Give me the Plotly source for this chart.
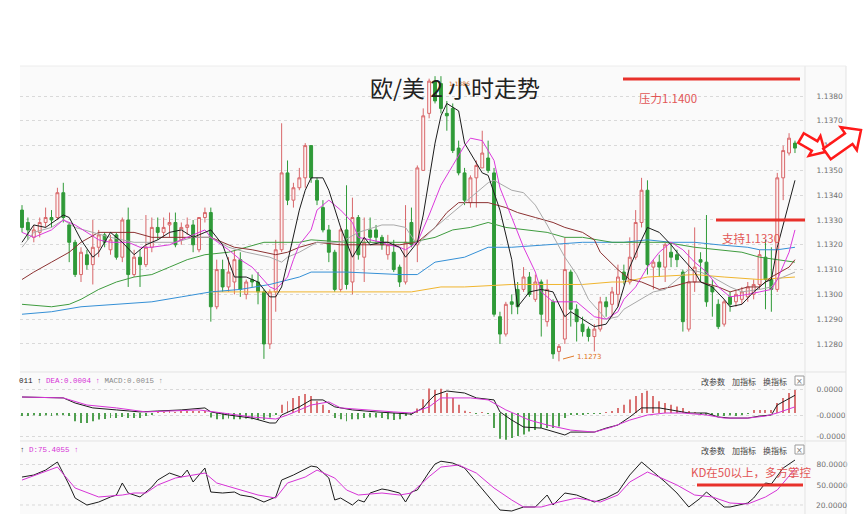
import math
import plotly.graph_objects as go

# ---------------- data ----------------
opens = [1.1334,1.1329,1.1323,1.1325,1.1329,1.1331,1.1331,1.1341,1.1328,1.1321,
         1.1308,1.1316,1.1312,1.1319,1.1324,1.1318,1.1324,1.1315,1.1330,1.1308,
         1.1315,1.1312,1.1319,1.1327,1.1325,1.1328,1.1329,1.1322,1.1327,1.1328,
         1.1318,1.1331,1.1333,1.1295,1.1310,1.1303,1.1305,1.1314,1.1300,1.1306,
         1.1305,1.1301,1.1280,1.1301,1.1318,1.1349,1.1338,1.1343,1.1347,1.1360,
         1.1346,1.1335,1.1326,1.1317,1.1302,1.1326,1.1305,1.1331,1.1315,1.1326,
         1.1326,1.1323,1.1316,1.1317,1.1311,1.1305,1.1329,1.1320,1.1350,1.1373,
         1.1386,1.1385,1.1373,1.1375,1.1359,1.1349,1.1337,1.1347,1.1351,1.1355,
         1.1349,1.1291,1.1284,1.1297,1.1302,1.1302,1.1307,1.1298,1.1305,1.1289,
         1.1297,1.1277,1.1282,1.1309,1.1294,1.1288,1.1286,1.1283,1.1286,1.1297,
         1.1296,1.1300,1.1309,1.1305,1.1315,1.1329,1.1342,1.1311,1.1313,1.1311,
         1.1317,1.1316,1.1309,1.1286,1.1305,1.1314,1.1313,1.1303,1.1296,1.1288,
         1.1299,1.1297,1.1298,1.1299,1.1300,1.1304,1.1315,1.1306,1.1302,1.1347,
         1.1357,1.1361]
highs = [1.1336,1.1331,1.1328,1.1331,1.1335,1.1334,1.1343,1.1345,1.1329,1.1322,
         1.1319,1.1318,1.1330,1.1326,1.1325,1.1324,1.1325,1.1331,1.1335,1.1318,
         1.1318,1.1332,1.1331,1.1331,1.1331,1.1333,1.1333,1.1329,1.1331,1.1330,
         1.1331,1.1335,1.1335,1.1314,1.1314,1.1315,1.1318,1.1317,1.1306,1.1308,
         1.1309,1.1302,1.1302,1.1322,1.1369,1.1354,1.1345,1.1351,1.1361,1.1360,
         1.1347,1.1338,1.1328,1.1318,1.1327,1.1344,1.1339,1.1332,1.1331,1.1331,
         1.1328,1.1324,1.1324,1.1322,1.1312,1.1336,1.1335,1.1352,1.1375,1.1387,
         1.1388,1.1388,1.1378,1.1377,1.1362,1.1351,1.1348,1.1354,1.1366,1.1362,
         1.1351,1.1293,1.1297,1.1300,1.1305,1.1311,1.1309,1.1308,1.1306,1.1306,
         1.1298,1.1280,1.1323,1.1310,1.1296,1.1291,1.1287,1.1288,1.1299,1.1299,
         1.1303,1.1312,1.1312,1.1323,1.1334,1.1347,1.1346,1.1314,1.1316,1.1321,
         1.1321,1.1318,1.1310,1.1318,1.1327,1.1317,1.1332,1.1306,1.1298,1.1298,
         1.1301,1.1302,1.1303,1.1305,1.1306,1.1318,1.1322,1.1319,1.1349,1.1360,
         1.1365,1.1362]
lows = [1.1325,1.1322,1.1321,1.1323,1.1327,1.1327,1.1330,1.1329,1.1313,1.1307,
        1.1305,1.1310,1.1304,1.1315,1.1319,1.1316,1.1314,1.1313,1.1303,1.1307,
        1.1303,1.1311,1.1317,1.1322,1.1323,1.1323,1.1319,1.1320,1.1324,1.1317,
        1.1317,1.1329,1.1289,1.1294,1.1301,1.1301,1.1300,1.1299,1.1298,1.1303,
        1.1296,1.1274,1.1278,1.1293,1.1317,1.1336,1.1335,1.1342,1.1343,1.1345,
        1.1336,1.1325,1.1313,1.1301,1.1301,1.1302,1.1300,1.1314,1.1305,1.1321,
        1.1321,1.1318,1.1314,1.1309,1.1303,1.1304,1.1319,1.1313,1.1350,1.1371,
        1.1377,1.1373,1.1366,1.1357,1.1348,1.1336,1.1335,1.1335,1.1351,1.1349,
        1.1291,1.1280,1.1283,1.1292,1.1292,1.1301,1.1299,1.1297,1.1283,1.1287,
        1.1274,1.1273,1.1280,1.1287,1.1281,1.1283,1.1281,1.1277,1.1285,1.1291,
        1.1291,1.1295,1.1304,1.1304,1.1314,1.1327,1.1308,1.1302,1.1307,1.1305,
        1.1311,1.1311,1.1285,1.1285,1.1301,1.1305,1.1295,1.1291,1.1286,1.1287,
        1.1293,1.1295,1.1296,1.1297,1.1298,1.1302,1.1294,1.1293,1.1301,1.1338,
        1.1356,1.1357]
closes = [1.1327,1.1326,1.1326,1.1329,1.1331,1.1330,1.1341,1.1331,1.1321,1.1308,
          1.1317,1.1312,1.1319,1.1324,1.1321,1.1322,1.1315,1.1330,1.1308,1.1315,
          1.1312,1.1319,1.1327,1.1325,1.1327,1.1329,1.1320,1.1327,1.1328,1.1320,
          1.1331,1.1333,1.1295,1.1310,1.1303,1.1309,1.1314,1.1302,1.1305,1.1305,
          1.1301,1.1280,1.1301,1.1318,1.1349,1.1338,1.1343,1.1347,1.1360,1.1347,
          1.1338,1.1326,1.1317,1.1302,1.1326,1.1304,1.1331,1.1316,1.1321,1.1323,
          1.1323,1.1320,1.1320,1.1310,1.1305,1.1321,1.1320,1.1351,1.1372,1.1386,
          1.1378,1.1375,1.1372,1.1358,1.1349,1.1338,1.1347,1.1352,1.1357,1.1350,
          1.1292,1.1284,1.1296,1.1296,1.1295,1.1307,1.1300,1.1305,1.1292,1.1302,
          1.1276,1.1279,1.1310,1.1294,1.1289,1.1285,1.1283,1.1286,1.1297,1.1295,
          1.1301,1.1307,1.1306,1.1315,1.1329,1.1342,1.1312,1.1313,1.1311,1.1320,
          1.1315,1.1314,1.1289,1.1305,1.1311,1.1313,1.1297,1.1301,1.1287,1.1297,
          1.1296,1.1300,1.1301,1.1303,1.1304,1.1316,1.1306,1.1302,1.1347,1.1358,
          1.1363,1.1359]
idx = list(range(len(opens)))

# moving averages (sampled along the drawn curves)
ma5_x = [0,2,4,7,8,10,12,13,15,17,19,21,23,25,27,29,31,32,34,36,38,40,41,42,43,44,45,46,47,48,49,51,52,54,56,58,59,61,62,64,65,67,68,70,71,72,74,75,78,79,81,83,84,86,88,90,92,93,95,97,99,101,102,103,105,106,108,110,111,114,115,117,119,120,122,124,126,127,128,130,131]
ma5_y = [1.1321,1.1328,1.1327,1.1332,1.1331,1.1322,1.1315,1.1317,1.1325,1.1321,1.1316,1.1320,1.1322,1.1325,1.1326,1.1323,1.1325,1.1326,1.1320,1.1307,1.1307,1.1305,1.1302,1.1299,1.1299,1.1303,1.1313,1.1323,1.1334,1.1342,1.1347,1.1347,1.1342,1.1327,1.1315,1.1323,1.1320,1.1321,1.1321,1.1319,1.1315,1.1321,1.1332,1.1361,1.1372,1.1377,1.1374,1.1361,1.1349,1.1348,1.1334,1.1314,1.1295,1.1301,1.1302,1.1301,1.1291,1.1293,1.1290,1.1287,1.1288,1.1295,1.1303,1.1311,1.1322,1.1327,1.1325,1.1320,1.1317,1.1309,1.1305,1.1303,1.1298,1.1295,1.1296,1.1301,1.1305,1.1306,1.1319,1.1337,1.1346]
ma10_x = [0,2,5,7,9,11,13,15,18,20,22,25,27,29,31,32,35,37,39,42,43,45,46,47,49,50,52,54,56,57,59,61,62,64,65,67,69,71,73,75,76,78,80,81,83,85,87,88,90,92,94,97,99,101,102,104,106,108,110,112,114,116,118,120,123,125,127,128,130,131]
ma10_y = [1.1325,1.1323,1.1326,1.1330,1.1328,1.1325,1.1322,1.1321,1.1321,1.1319,1.1319,1.1320,1.1322,1.1324,1.1326,1.1323,1.1318,1.1314,1.1311,1.1303,1.1302,1.1307,1.1314,1.1320,1.1326,1.1334,1.1338,1.1334,1.1329,1.1323,1.1322,1.1321,1.1320,1.1319,1.1318,1.1321,1.1332,1.1344,1.1352,1.1360,1.1363,1.1362,1.1354,1.1343,1.1331,1.1319,1.1309,1.1301,1.1297,1.1297,1.1297,1.1291,1.1290,1.1293,1.1298,1.1303,1.1311,1.1317,1.1321,1.1318,1.1313,1.1309,1.1303,1.1299,1.1300,1.1301,1.1302,1.1306,1.1317,1.1326]
ma20_x = [0,2,5,7,9,12,15,19,22,26,29,32,35,38,42,44,45,47,50,54,57,61,63,65,67,70,72,74,76,79,80,83,85,87,89,92,94,96,99,101,102,105,107,109,111,113,115,117,120,122,125,127,128,131]
ma20_y = [1.1319,1.1325,1.1327,1.1330,1.1327,1.1325,1.1323,1.1321,1.1321,1.1321,1.1323,1.1323,1.1319,1.1317,1.1315,1.1313,1.1315,1.1317,1.1321,1.1321,1.1325,1.1328,1.1328,1.1327,1.1320,1.1327,1.1331,1.1335,1.1339,1.1345,1.1346,1.1342,1.1341,1.1336,1.1328,1.1315,1.1308,1.1298,1.1290,1.1291,1.1294,1.1298,1.1301,1.1302,1.1306,1.1310,1.1309,1.1307,1.1303,1.1301,1.1302,1.1303,1.1306,1.1309]
ma30_x = [0,2,5,8,10,13,16,19,22,25,27,30,32,36,39,43,45,47,50,54,57,61,64,67,70,72,74,76,79,82,84,87,90,92,95,97,98,101,103,105,108,110,113,115,118,120,123,125,127,130,131]
ma30_y = [1.1306,1.1309,1.1313,1.1317,1.1321,1.1325,1.1325,1.1325,1.1323,1.1323,1.1323,1.1323,1.1323,1.1319,1.1318,1.1316,1.1317,1.1319,1.1321,1.1320,1.1320,1.1320,1.1320,1.1321,1.1327,1.1333,1.1337,1.1337,1.1337,1.1335,1.1333,1.1331,1.1329,1.1327,1.1325,1.1322,1.1317,1.1310,1.1306,1.1305,1.1302,1.1303,1.1305,1.1305,1.1303,1.1301,1.1303,1.1303,1.1307,1.1311,1.1314]
ma60_x = [0,5,8,10,13,16,19,22,25,28,31,35,38,41,47,49,55,61,66,70,73,76,79,82,86,89,92,95,100,105,109,114,118,122,125,128,131]
ma60_y = [1.1296,1.1295,1.1296,1.1298,1.1302,1.1305,1.1307,1.1308,1.1311,1.1314,1.1316,1.1317,1.1319,1.1321,1.1321,1.1322,1.1321,1.1321,1.1321,1.1323,1.1326,1.1327,1.1329,1.1327,1.1326,1.1325,1.1323,1.1323,1.1321,1.1321,1.1321,1.1319,1.1318,1.1317,1.1315,1.1314,1.1313]
ma120_x = [0,5,10,16,22,27,32,37,42,47,49,55,64,67,70,75,79,83,89,95,102,106,110,114,118,123,125,128,131]
ma120_y = [1.1292,1.1293,1.1295,1.1296,1.1297,1.1299,1.1301,1.1302,1.1304,1.1307,1.1309,1.1309,1.1308,1.1308,1.1313,1.1315,1.1319,1.1319,1.1320,1.1321,1.1321,1.1322,1.1321,1.1321,1.1320,1.1319,1.1318,1.1318,1.1319]
ma250_x = [32,47,55,66,71,75,83,95,100,102,106,114,119,125,131]
ma250_y = [1.1301,1.1301,1.1301,1.1301,1.1303,1.1303,1.1304,1.1304,1.1305,1.1305,1.1307,1.1308,1.1307,1.1306,1.1307]

# MACD
macd_hist = [-0.0002,-0.0002,-0.00015,-0.0002,-0.00015,-0.0002,-0.00015,-0.0001,-0.0002,-0.00054,
             -0.00065,-0.00065,-0.00054,-0.00043,-0.00039,-0.00033,-0.00033,-0.00026,-0.00033,-0.00033,
             -0.00033,-0.0002,-0.0001,0.00005,0.00005,0.00007,0.00005,0.00007,0.00007,0.0001,
             0.00007,0.0001,-0.0003,-0.0004,-0.0004,-0.00035,-0.0004,-0.0004,-0.00035,-0.0004,
             -0.00045,-0.00045,-0.0003,-0.0001,0.00054,0.00076,0.00098,0.0011,0.00124,0.0011,
             0.00076,0.00054,0.0002,-0.00033,-0.0004,-0.00054,-0.0004,-0.0004,-0.00033,-0.0003,
             -0.0003,-0.00033,-0.0004,-0.00045,-0.0004,-0.0002,-0.0001,0.0003,0.0009,0.0016,
             0.0015,0.00158,0.0013,0.00098,0.00054,0.00015,0.00005,-0.00005,0.00005,-0.00005,
             -0.00098,-0.00167,-0.00174,-0.00163,-0.0015,-0.0014,-0.0012,-0.0011,-0.00098,-0.00098,
             -0.00098,-0.00087,-0.00033,-0.0001,-0.0001,-0.00008,-0.00006,-0.00004,-0.00003,0.00003,
             0.0001,0.00033,0.00054,0.00087,0.0011,0.0013,0.00145,0.0011,0.00076,0.00065,
             0.00054,0.00043,0.00033,0.0001,0.00005,-0.00005,-0.0001,-0.00015,-0.0002,-0.0002,
             -0.00015,-0.0002,-0.0001,-0.00005,0.0002,0.0002,0.0002,0.0002,0.00065,0.00098,
             0.0013,0.0015]
dif_x = [0,7,9,12,16,20,23,27,31,32,35,39,42,43,44,47,49,51,53,56,60,63,66,68,69,70,72,75,77,80,81,83,85,88,91,92,93,97,99,101,103,105,108,110,113,116,118,120,123,125,127,128,131]
dif_y = [0.00104,0.00098,0.00065,0.00033,0.0002,0.00007,0.00013,0.0002,0.00033,0.00007,-0.00013,-0.00033,-0.00065,-0.00065,-0.00013,0.0004,0.00085,0.00085,0.0004,0.0002,0.00007,0.0,-0.00007,0.00033,0.0008,0.00117,0.00143,0.0013,0.00098,0.00085,0.00007,-0.00046,-0.00091,-0.00098,-0.0013,-0.00143,-0.00124,-0.00124,-0.00098,-0.00078,-0.00026,0.00033,0.00033,0.0002,0.0,0.0,-0.00026,-0.00033,-0.00033,-0.0002,-0.00013,0.00052,0.00115]
dea_x = [0,7,11,16,21,26,30,34,39,43,45,49,52,54,58,63,66,69,71,76,79,82,86,89,93,97,100,103,106,109,112,116,119,123,126,128,131]
dea_y = [0.00104,0.00098,0.00052,0.00033,0.00007,0.00013,0.0002,0.0,-0.00026,-0.00039,-0.00013,0.00052,0.00072,0.00033,0.0002,0.00007,0.0,0.0004,0.00098,0.00098,0.00085,0.0002,-0.00046,-0.00078,-0.00111,-0.00124,-0.00091,-0.00046,-0.00013,0.0,0.0,-0.00013,-0.00033,-0.00033,-0.0002,0.0,0.0004]

# KD
k_x = [0,2,4,6,8,9,11,13,15,16,17,18,20,22,23,25,27,28,29,31,32,34,36,37,39,41,43,44,46,47,49,50,52,53,54,56,57,58,59,61,62,64,65,66,67,69,70,71,73,75,77,79,81,83,85,87,89,90,92,94,97,99,101,103,105,107,109,111,113,115,116,117,119,120,123,124,126,127,129,131]
k_y = [61.4,64.3,71.4,82.9,50.0,31.4,21.4,25.7,32.9,35.7,52.9,38.6,32.9,47.1,57.1,67.1,61.4,71.4,54.3,74.3,40.0,38.6,40.0,35.7,32.9,25.7,32.9,57.1,64.3,68.6,77.1,75.7,60.0,28.6,31.4,21.4,28.6,25.7,38.6,44.3,42.9,38.6,25.7,40.0,42.9,68.6,80.0,84.0,81.4,74.3,54.3,35.7,14.3,12.9,18.6,18.6,35.7,21.4,38.6,35.7,25.7,31.4,40.0,64.3,82.9,68.6,54.3,38.6,18.6,31.4,40.0,32.9,18.6,18.6,24.3,31.4,52.9,51.4,74.3,85.7]
d_x = [0,6,9,13,17,19,21,23,26,29,31,33,37,40,43,45,48,50,53,55,57,61,64,66,69,71,74,77,80,83,85,88,91,94,98,101,103,106,108,111,114,117,120,123,126,128,131]
d_y = [57.1,75.7,45.7,32.9,35.7,38.6,38.6,50.0,60.0,64.3,67.1,52.9,42.9,35.7,31.4,52.9,61.4,71.4,60.0,42.9,35.7,38.6,35.7,38.6,62.0,75.7,78.6,67.1,45.7,28.6,18.6,18.6,25.7,31.4,25.7,35.7,54.3,68.6,61.4,50.0,35.7,32.9,24.3,22.9,32.9,42.9,72.9]

price_ticks = [1.1280,1.1290,1.1300,1.1310,1.1320,1.1330,1.1340,1.1350,1.1360,1.1370,1.1380]
price_tick_text = ["1.1280","1.1290","1.1300","1.1310","1.1320","1.1330","1.1340","1.1350","1.1360","1.1370","1.1380"]
macd_ticks = [0.00156,-0.00013,-0.0015]
macd_tick_text = ["0.0000","-0.0000","-0.0000"]
kd_ticks = [80,50]
kd_tick_text = ["80.0000","50.0000"]
kd_bottom_label = "20.0000"
support_level = 1.1330
kd_level = 50

# ---------------- helpers for decoration placement ----------------
W, H = 864, 514
L, R, T, B = 20, 805, 66, 514
def px(x):
    return (x - L) / (R - L)
def py(y):
    return (B - y) / (B - T)

UP_LINE, UP_FILL = "#d8676a", "#fdf1f1"
DN = "#2f9a38"
RED = "#e8312b"
RED_TXT = "#e25656"

fig = go.Figure()
fig.add_trace(go.Candlestick(
    x=idx, open=opens, high=highs, low=lows, close=closes,
    increasing=dict(line=dict(color=UP_LINE, width=1), fillcolor=UP_FILL),
    decreasing=dict(line=dict(color=DN, width=1), fillcolor=DN),
    whiskerwidth=0, showlegend=False, hoverinfo="skip", yaxis="y"))

for xs, ys, col in [(ma250_x, ma250_y, "#f0b52e"), (ma120_x, ma120_y, "#3590d6"),
                    (ma60_x, ma60_y, "#3f9c3f"), (ma30_x, ma30_y, "#8c3232"),
                    (ma20_x, ma20_y, "#a9a9a9"), (ma10_x, ma10_y, "#dc3adc"),
                    (ma5_x, ma5_y, "#1c1c1c")]:
    fig.add_trace(go.Scatter(x=xs, y=ys, mode="lines", line=dict(color=col, width=1),
                             showlegend=False, hoverinfo="skip", yaxis="y"))

fig.add_trace(go.Bar(x=idx, y=macd_hist, width=0.16,
                     marker=dict(color=["#d97373" if v >= 0 else "#4f9f4f" for v in macd_hist], line=dict(width=0)),
                     showlegend=False, hoverinfo="skip", yaxis="y2"))
fig.add_trace(go.Scatter(x=dif_x, y=dif_y, mode="lines", line=dict(color="#1c1c1c", width=1),
                         showlegend=False, hoverinfo="skip", yaxis="y2"))
fig.add_trace(go.Scatter(x=dea_x, y=dea_y, mode="lines", line=dict(color="#d633d6", width=1),
                         showlegend=False, hoverinfo="skip", yaxis="y2"))
fig.add_trace(go.Scatter(x=k_x, y=k_y, mode="lines", line=dict(color="#1c1c1c", width=1),
                         showlegend=False, hoverinfo="skip", yaxis="y3"))
fig.add_trace(go.Scatter(x=d_x, y=d_y, mode="lines", line=dict(color="#d633d6", width=1),
                         showlegend=False, hoverinfo="skip", yaxis="y3"))

axis_common = dict(side="right", anchor="x", showgrid=True, gridcolor="#d9d9d9", griddash="dot",
                   gridwidth=1, zeroline=False, showline=False, ticks="outside", ticklen=9,
                   tickcolor="rgba(0,0,0,0)", tickfont=dict(family="DejaVu Sans", size=7.5, color="#707070"))

shapes = [
    dict(type="rect", xref="paper", yref="paper", x0=0, x1=px(846), y0=0, y1=1,
         fillcolor="#fafafa", line=dict(width=0), layer="below"),
    dict(type="line", xref="paper", yref="paper", x0=1, x1=1, y0=0, y1=1, line=dict(color="#e3e3e3", width=1)),
    dict(type="line", xref="paper", yref="paper", x0=px(846), x1=px(846), y0=0, y1=1, line=dict(color="#e3e3e3", width=1)),
    dict(type="line", xref="paper", yref="paper", x0=0, x1=px(846), y0=1, y1=1, line=dict(color="#ececec", width=1)),
    dict(type="line", xref="paper", yref="paper", x0=0, x1=px(846), y0=py(372), y1=py(372), line=dict(color="#e3e3e3", width=1)),
    dict(type="line", xref="paper", yref="paper", x0=0, x1=px(846), y0=py(441), y1=py(441), line=dict(color="#e3e3e3", width=1)),
    dict(type="line", xref="paper", yref="paper", x0=0, x1=1, y0=py(505), y1=py(505),
         line=dict(color="#d9d9d9", width=1, dash="dot"), layer="below"),
    # resistance / support / KD 50 lines
    dict(type="line", xref="paper", yref="paper", x0=px(623), x1=px(800), y0=py(79), y1=py(79), line=dict(color=RED, width=3)),
    dict(type="line", xref="paper", yref="y", x0=px(716), x1=px(805), y0=support_level, y1=support_level, line=dict(color=RED, width=3)),
    dict(type="line", xref="paper", yref="y3", x0=px(697), x1=px(803), y0=kd_level, y1=kd_level, line=dict(color=RED, width=3)),
    # small close boxes
    dict(type="rect", xref="paper", yref="paper", x0=px(795), x1=px(804), y0=py(385), y1=py(376),
         line=dict(color="#9a9a9a", width=1), fillcolor="#ffffff"),
    dict(type="rect", xref="paper", yref="paper", x0=px(795), x1=px(804), y0=py(454), y1=py(445),
         line=dict(color="#9a9a9a", width=1), fillcolor="#ffffff"),
    # low marker arrow
    dict(type="line", xref="paper", yref="paper", x0=px(563), x1=px(574), y0=py(359), y1=py(356),
         line=dict(color="#e07a2a", width=1)),
]

def arrow_path(tx, ty, hx, hy, w, hw, hl):
    dx, dy = hx - tx, hy - ty
    ln = math.hypot(dx, dy)
    ux, uy = dx / ln, dy / ln
    nx, ny = -uy, ux
    loc = [(0, -w), (ln - hl, -w), (ln - hl, -hw), (ln, 0), (ln - hl, hw), (ln - hl, w), (0, w)]
    pts = [(tx + a * ux + b * nx, ty + a * uy + b * ny) for a, b in loc]
    return "M " + " L ".join(f"{px(x):.5f},{py(y):.5f}" for x, y in pts) + " Z"

shapes.append(dict(type="path", xref="paper", yref="paper", path=arrow_path(801, 138, 825, 152, 5.5, 11.5, 12),
                   line=dict(color="#ff1a1a", width=2.5), fillcolor="#ffffff"))
shapes.append(dict(type="path", xref="paper", yref="paper", path=arrow_path(827, 154, 861, 130, 6.5, 14, 15),
                   line=dict(color="#ff1a1a", width=2.5), fillcolor="#ffffff"))

def ann(text, x, y, size, color, family="Noto Sans CJK SC", xanchor="center"):
    return dict(text=text, x=px(x), y=py(y), xref="paper", yref="paper", showarrow=False,
                xanchor=xanchor, yanchor="middle", font=dict(family=family, size=size, color=color))

annotations = [
    ann("1.1386", 447, 84, 6, "#d2691e", family="DejaVu Sans", xanchor="left"),
    ann("欧/美 2 小时走势", 455, 87, 23, "#222222"),
    ann("压力1.1400", 668, 98, 11.5, RED_TXT),
    ann("支持1.1330", 751, 238, 11.5, RED_TXT),
    ann("1.1273", 575, 357, 7, "#e07020", family="DejaVu Sans", xanchor="left"),
    ann("KD在50以上，多方掌控", 751, 472, 11.5, RED_TXT),
    ann("011 ↑ <span style='color:#d633d6'>DEA:0.0004 ↑</span> <span style='color:#8a8a8a'>MACD:0.0015 ↑</span>",
        17, 381, 7.5, "#222222", family="Liberation Mono", xanchor="left"),
    ann("↑ <span style='color:#d633d6'>D:75.4055 ↑</span>", 18, 450, 7.5, "#222222", family="Liberation Mono", xanchor="left"),
    ann(kd_bottom_label, 814, 505, 7.5, "#707070", family="DejaVu Sans", xanchor="left"),
]
for yy in (381, 450):
    annotations += [ann("改参数", 713, yy, 8, "#444444"), ann("加指标", 744, yy, 8, "#444444"),
                    ann("换指标", 775, yy, 8, "#444444"), ann("×", 799.5, yy, 8, "#777777", family="DejaVu Sans")]

fig.update_layout(
    width=W, height=H, margin=dict(l=L, r=W - R, t=T, b=0, pad=0),
    paper_bgcolor="#ffffff", plot_bgcolor="#fafafa",
    showlegend=False, boxgap=0.3,
    xaxis=dict(range=[-0.34, 132.7], visible=False, rangeslider=dict(visible=False), fixedrange=True),
    yaxis=dict(domain=[py(372), 1], range=[1.12687, 1.13921], tickvals=price_ticks, ticktext=price_tick_text, **axis_common),
    yaxis2=dict(domain=[py(441), py(372)], range=[-0.00182, 0.002665], tickvals=macd_ticks, ticktext=macd_tick_text, **axis_common),
    yaxis3=dict(domain=[0, py(441)], range=[8.6, 112.9], tickvals=kd_ticks, ticktext=kd_tick_text, **axis_common),
    shapes=shapes, annotations=annotations,
)

fig.write_html("out.html")
